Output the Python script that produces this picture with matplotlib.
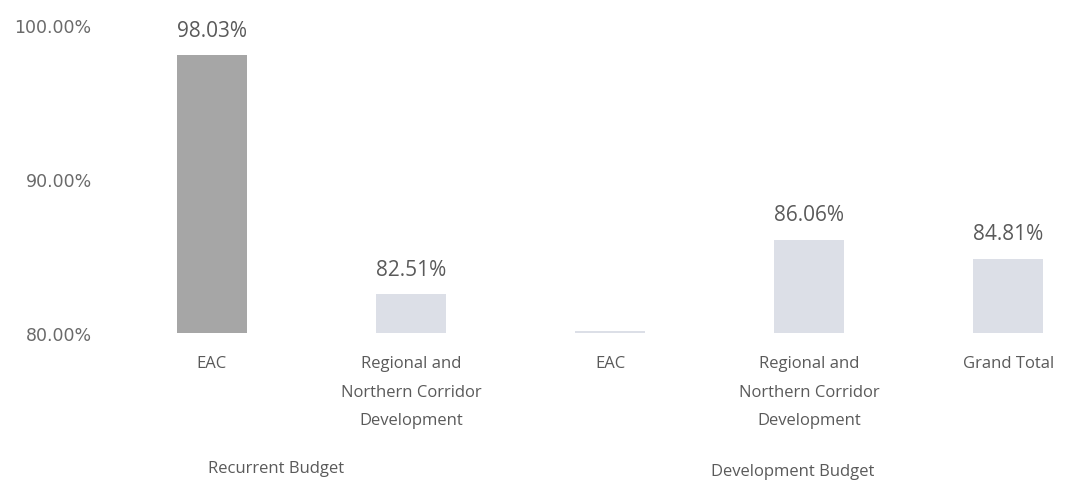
import matplotlib.pyplot as plt

plt.rcParams['font.family'] = ['Open Sans', 'DejaVu Sans']

# ______________________________________________________________________________
# DATA
# ______________________________________________________________________________

categories = ['EAC', 'Regional and\nNorthern Corridor\nDevelopment',
              'EAC', 'Regional and\nNorthern Corridor\nDevelopment', 'Grand Total']
values = [98.03, 82.51, 80.1, 86.06, 84.81]
value_labels = ['98.03%', '82.51%', '', '86.06%', '84.81%']
groups = ['Recurrent Budget', 'Development Budget']
y_ticks = [80, 90, 100]
y_tick_labels = ['80.00%', '90.00%', '100.00%']

bar_colors = ['#a6a6a6', '#dcdfe7', '#dcdfe7', '#dcdfe7', '#dcdfe7']
text_col = '#5a5a5a'

# ______________________________________________________________________________
# PLOT
# ______________________________________________________________________________

fig = plt.figure(figsize=(10.66, 4.81), dpi=100)
ax = fig.add_axes([0.103, 0.3056, 0.897, 0.6403])

x = list(range(len(values)))
ax.bar(x, [v - 80 for v in values], bottom=80, width=0.35, color=bar_colors,
       edgecolor='none')

for xi, v, lab in zip(x, values, value_labels):
    if lab:
        ax.text(xi, v + 0.95, lab, ha='center', va='bottom', fontsize=15, color=text_col)

ax.set_xlim(-0.513, 4.29)
ax.set_ylim(80, 100)
ax.set_yticks(y_ticks)
ax.set_yticklabels(y_tick_labels, fontsize=12.5, color='#6a6a6a', family='DejaVu Sans')
ax.tick_params(axis='y', length=0, pad=13)
ax.set_xticks(x)
ax.set_xticklabels(categories, fontsize=12, color=text_col, linespacing=2.05)
ax.tick_params(axis='x', length=0, pad=16)
for s in ax.spines.values():
    s.set_visible(False)

# group labels under the categories
fig.text(276 / 1066, 1 - 469 / 481, groups[0], ha='center', va='center',
         fontsize=12, color=text_col)
fig.text(793 / 1066, 1 - 472 / 481, groups[1], ha='center', va='center',
         fontsize=12, color=text_col)

fig.savefig('out.png', dpi=100)
